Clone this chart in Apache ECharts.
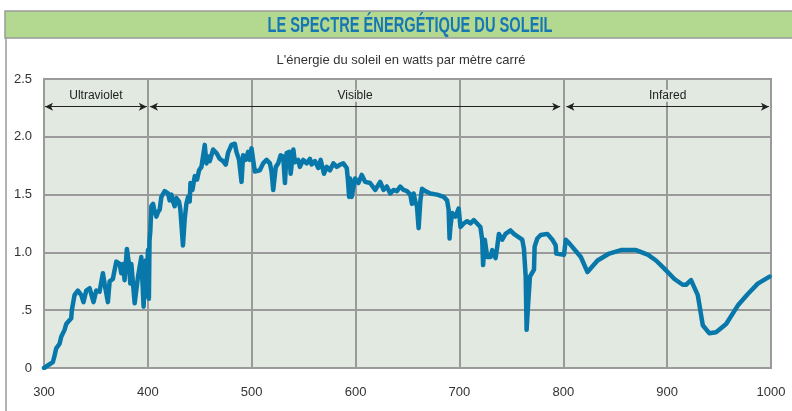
<!DOCTYPE html>
<html><head><meta charset="utf-8">
<script src="https://cdn.jsdelivr.net/npm/echarts@6/dist/echarts.min.js"></script>
<style>html,body{margin:0;padding:0;background:#fff}#c{width:792px;height:411px}</style>
</head><body><div id="c"></div>
<script>
var titleText = "LE SPECTRE ÉNERGÉTIQUE DU SOLEIL";
var subtitleText = "L'énergie du soleil en watts par mètre carré";
var xTicks = [300, 400, 500, 600, 700, 800, 900, 1000];
var xTickLabels = ["300", "400", "500", "600", "700", "800", "900", "1000"];
var yTicks = [0, 0.5, 1.0, 1.5, 2.0, 2.5];
var yTickLabels = ["0", ".5", "1.0", "1.5", "2.0", "2.5"];
var bands = [
  {name: "Ultraviolet", from: 301, to: 399},
  {name: "Visible", from: 402, to: 797},
  {name: "Infared", from: 803, to: 998}
];
var bandLevel = 2.26;
var wavelength = [300,308.5,310,311.8,315,316.6,319.8,321.4,326.2,326.8,329.4,332.6,335.9,338,340.7,343.9,345.5,347.7,350.3,353.5,356.7,358.3,361.5,363.2,366.3,369.6,372.8,374.4,376,377.6,379.8,381.8,383.1,384.1,387.3,390.5,393.7,395.9,397.9,398.5,400.1,401,401.6,402.4,403.4,405,406.6,408.2,409.8,411.4,413,416.2,419.4,421,422.7,424.2,425.8,427.5,430,431.3,433.8,435.5,437.1,438.7,440.3,441,442.9,445.2,447.4,449.3,451.6,454.8,456.4,458,459.6,462.8,466,469.2,472.4,475,477.2,480.5,483.7,485.3,487.8,490.2,491.7,494.3,496.5,498.2,499.8,503,507.8,511,514.3,517.5,519.1,520.7,523.2,525.5,527.8,530.3,532,533.6,536.2,537.5,540.1,541.6,544.8,546.4,549.6,552.9,556.1,557.7,560.9,564.1,566.4,569.6,572.2,575.4,578.6,581.9,585.1,588.2,591.5,592.5,593.8,594.7,596.3,599.5,602.7,606,609.2,614,618.9,623.7,626.9,630.1,633.4,636.5,639.8,643,646.2,649.5,652.7,654.3,655.9,657.5,659.1,660.7,662.4,664,667.2,672,678.5,684.9,688.1,689.6,690.5,691.3,693,696.1,699.3,701,704.1,707.4,710.6,713.8,717,720.2,721.9,722.8,724.4,726.8,730,731.6,734.8,736.4,738,741.2,744.4,749.2,752.4,757.3,760.5,762.1,763.8,764.7,766,767.9,771.8,772.4,775,778.2,784.7,789.5,792.7,793.2,800.7,802.4,805.6,816.9,823.3,833,844.2,855.5,870,881.3,889.3,897.3,907,915,918.2,923,929.5,934.3,940.7,947.1,956.8,968,977.7,987.3,998.6];
var energy = [0,0.05,0.1,0.17,0.21,0.27,0.33,0.38,0.43,0.5,0.63,0.67,0.63,0.57,0.67,0.69,0.64,0.57,0.67,0.66,0.82,0.73,0.57,0.75,0.77,0.92,0.9,0.82,0.9,0.76,1.03,0.9,0.73,0.9,0.56,0.79,0.96,0.53,0.93,0.62,1.02,0.6,1.1,1.19,1.4,1.42,1.35,1.31,1.35,1.37,1.48,1.53,1.51,1.45,1.5,1.44,1.4,1.47,1.44,1.37,1.06,1.29,1.42,1.48,1.44,1.6,1.54,1.66,1.63,1.71,1.74,1.93,1.77,1.83,1.79,1.89,1.86,1.81,1.79,1.76,1.86,1.93,1.94,1.87,1.8,1.61,1.84,1.8,1.87,1.8,1.9,1.7,1.71,1.77,1.8,1.77,1.7,1.54,1.74,1.77,1.84,1.83,1.6,1.86,1.87,1.68,1.89,1.78,1.8,1.74,1.8,1.77,1.81,1.76,1.79,1.73,1.8,1.68,1.74,1.71,1.77,1.74,1.76,1.77,1.73,1.64,1.48,1.64,1.48,1.64,1.6,1.67,1.61,1.6,1.54,1.61,1.54,1.57,1.51,1.54,1.53,1.57,1.54,1.53,1.5,1.42,1.51,1.44,1.4,1.21,1.45,1.55,1.53,1.51,1.5,1.48,1.45,1.37,1.12,1.22,1.34,1.31,1.38,1.22,1.25,1.27,1.25,1.28,1.25,1.22,1.11,0.89,1.11,0.96,0.96,1.02,0.95,1.05,1.16,1.11,1.16,1.19,1.16,1.13,1.11,1.03,0.79,0.33,0.53,0.79,0.85,1.05,1.12,1.15,1.16,1.11,1.06,0.99,0.98,1.11,1.08,0.96,0.83,0.93,0.99,1.02,1.02,0.98,0.93,0.86,0.77,0.72,0.72,0.76,0.63,0.37,0.3,0.31,0.38,0.54,0.64,0.73,0.79];

var seriesData = wavelength.map(function (w, i) { return [w, energy[i]]; });
var narrow = "'Liberation Sans Narrow', 'Liberation Sans', Arial, sans-serif";
function tickLabel(ticks, labels, v) {
  var i = ticks.findIndex(function (t) { return Math.abs(t - v) < 1e-6; });
  return i >= 0 ? labels[i] : '';
}
var bandLines = bands.map(function (b) {
  return [
    {coord: [b.from, bandLevel], symbol: 'arrow', name: b.name},
    {coord: [b.to, bandLevel], symbol: 'arrow'}
  ];
});

// squeeze the title to a condensed look
var titleFont = "bold 22px 'Liberation Sans', Arial, sans-serif";
var mctx = document.createElement('canvas').getContext('2d');
mctx.font = titleFont;
var titleScale = 285 / mctx.measureText(titleText).width;
mctx.font = "12px 'Liberation Sans', Arial, sans-serif";
var bandScale = 1;

var chart = echarts.init(document.getElementById('c'));
chart.setOption({
  animation: false,
  graphic: [
    {type: 'rect', shape: {x: 5, y: 11, width: 800, height: 27}, style: {fill: '#b3d991', stroke: '#9a9a9a', lineWidth: 1.5}, z: -10},
    {type: 'line', shape: {x1: 6, y1: 38, x2: 6, y2: 420}, style: {stroke: '#9a9a9a', lineWidth: 1.5}},
    {type: 'text', x: 410, y: 26, scaleX: titleScale, style: {text: titleText, fill: '#1677b4', font: titleFont, textAlign: 'center', textVerticalAlign: 'middle'}},
    {type: 'text', x: 401, y: 60, style: {text: subtitleText, fill: '#333', font: "13px 'Liberation Sans', Arial, sans-serif", textAlign: 'center', textVerticalAlign: 'middle'}}
  ],
  grid: {left: 44, right: 21, top: 79, bottom: 43, show: true, backgroundColor: '#e1e9e1', borderColor: '#9a9a9a', borderWidth: 2},
  xAxis: {
    type: 'value', min: 300, max: 1000, interval: 100,
    axisLine: {show: false}, axisTick: {show: false},
    splitLine: {show: true, lineStyle: {color: '#9a9a9a', width: 2}},
    axisLabel: {color: '#333', fontFamily: narrow, fontSize: 13, margin: 18,
      formatter: function (v) { return tickLabel(xTicks, xTickLabels, v); }}
  },
  yAxis: {
    type: 'value', min: 0, max: 2.5, interval: 0.5,
    axisLine: {show: false}, axisTick: {show: false},
    splitLine: {show: true, lineStyle: {color: '#9a9a9a', width: 2}},
    axisLabel: {color: '#333', fontFamily: narrow, fontSize: 13, margin: 12,
      formatter: function (v) { return tickLabel(yTicks, yTickLabels, v); }}
  },
  series: [{
    type: 'line', data: seriesData, showSymbol: false, smooth: false,
    lineStyle: {color: '#0878aa', width: 4.5, join: 'round', cap: 'round'},
    z: 5,
    markLine: {
      silent: true, symbolSize: [6, 8],
      lineStyle: {color: '#222', width: 1, type: 'solid'},
      label: {
        show: true, position: 'middle', formatter: '{b}', color: '#222',
        fontFamily: narrow, fontSize: 12, backgroundColor: '#e1e9e1', padding: [0, 2]
      },
      data: bandLines
    }
  }]
});
</script></body></html>
